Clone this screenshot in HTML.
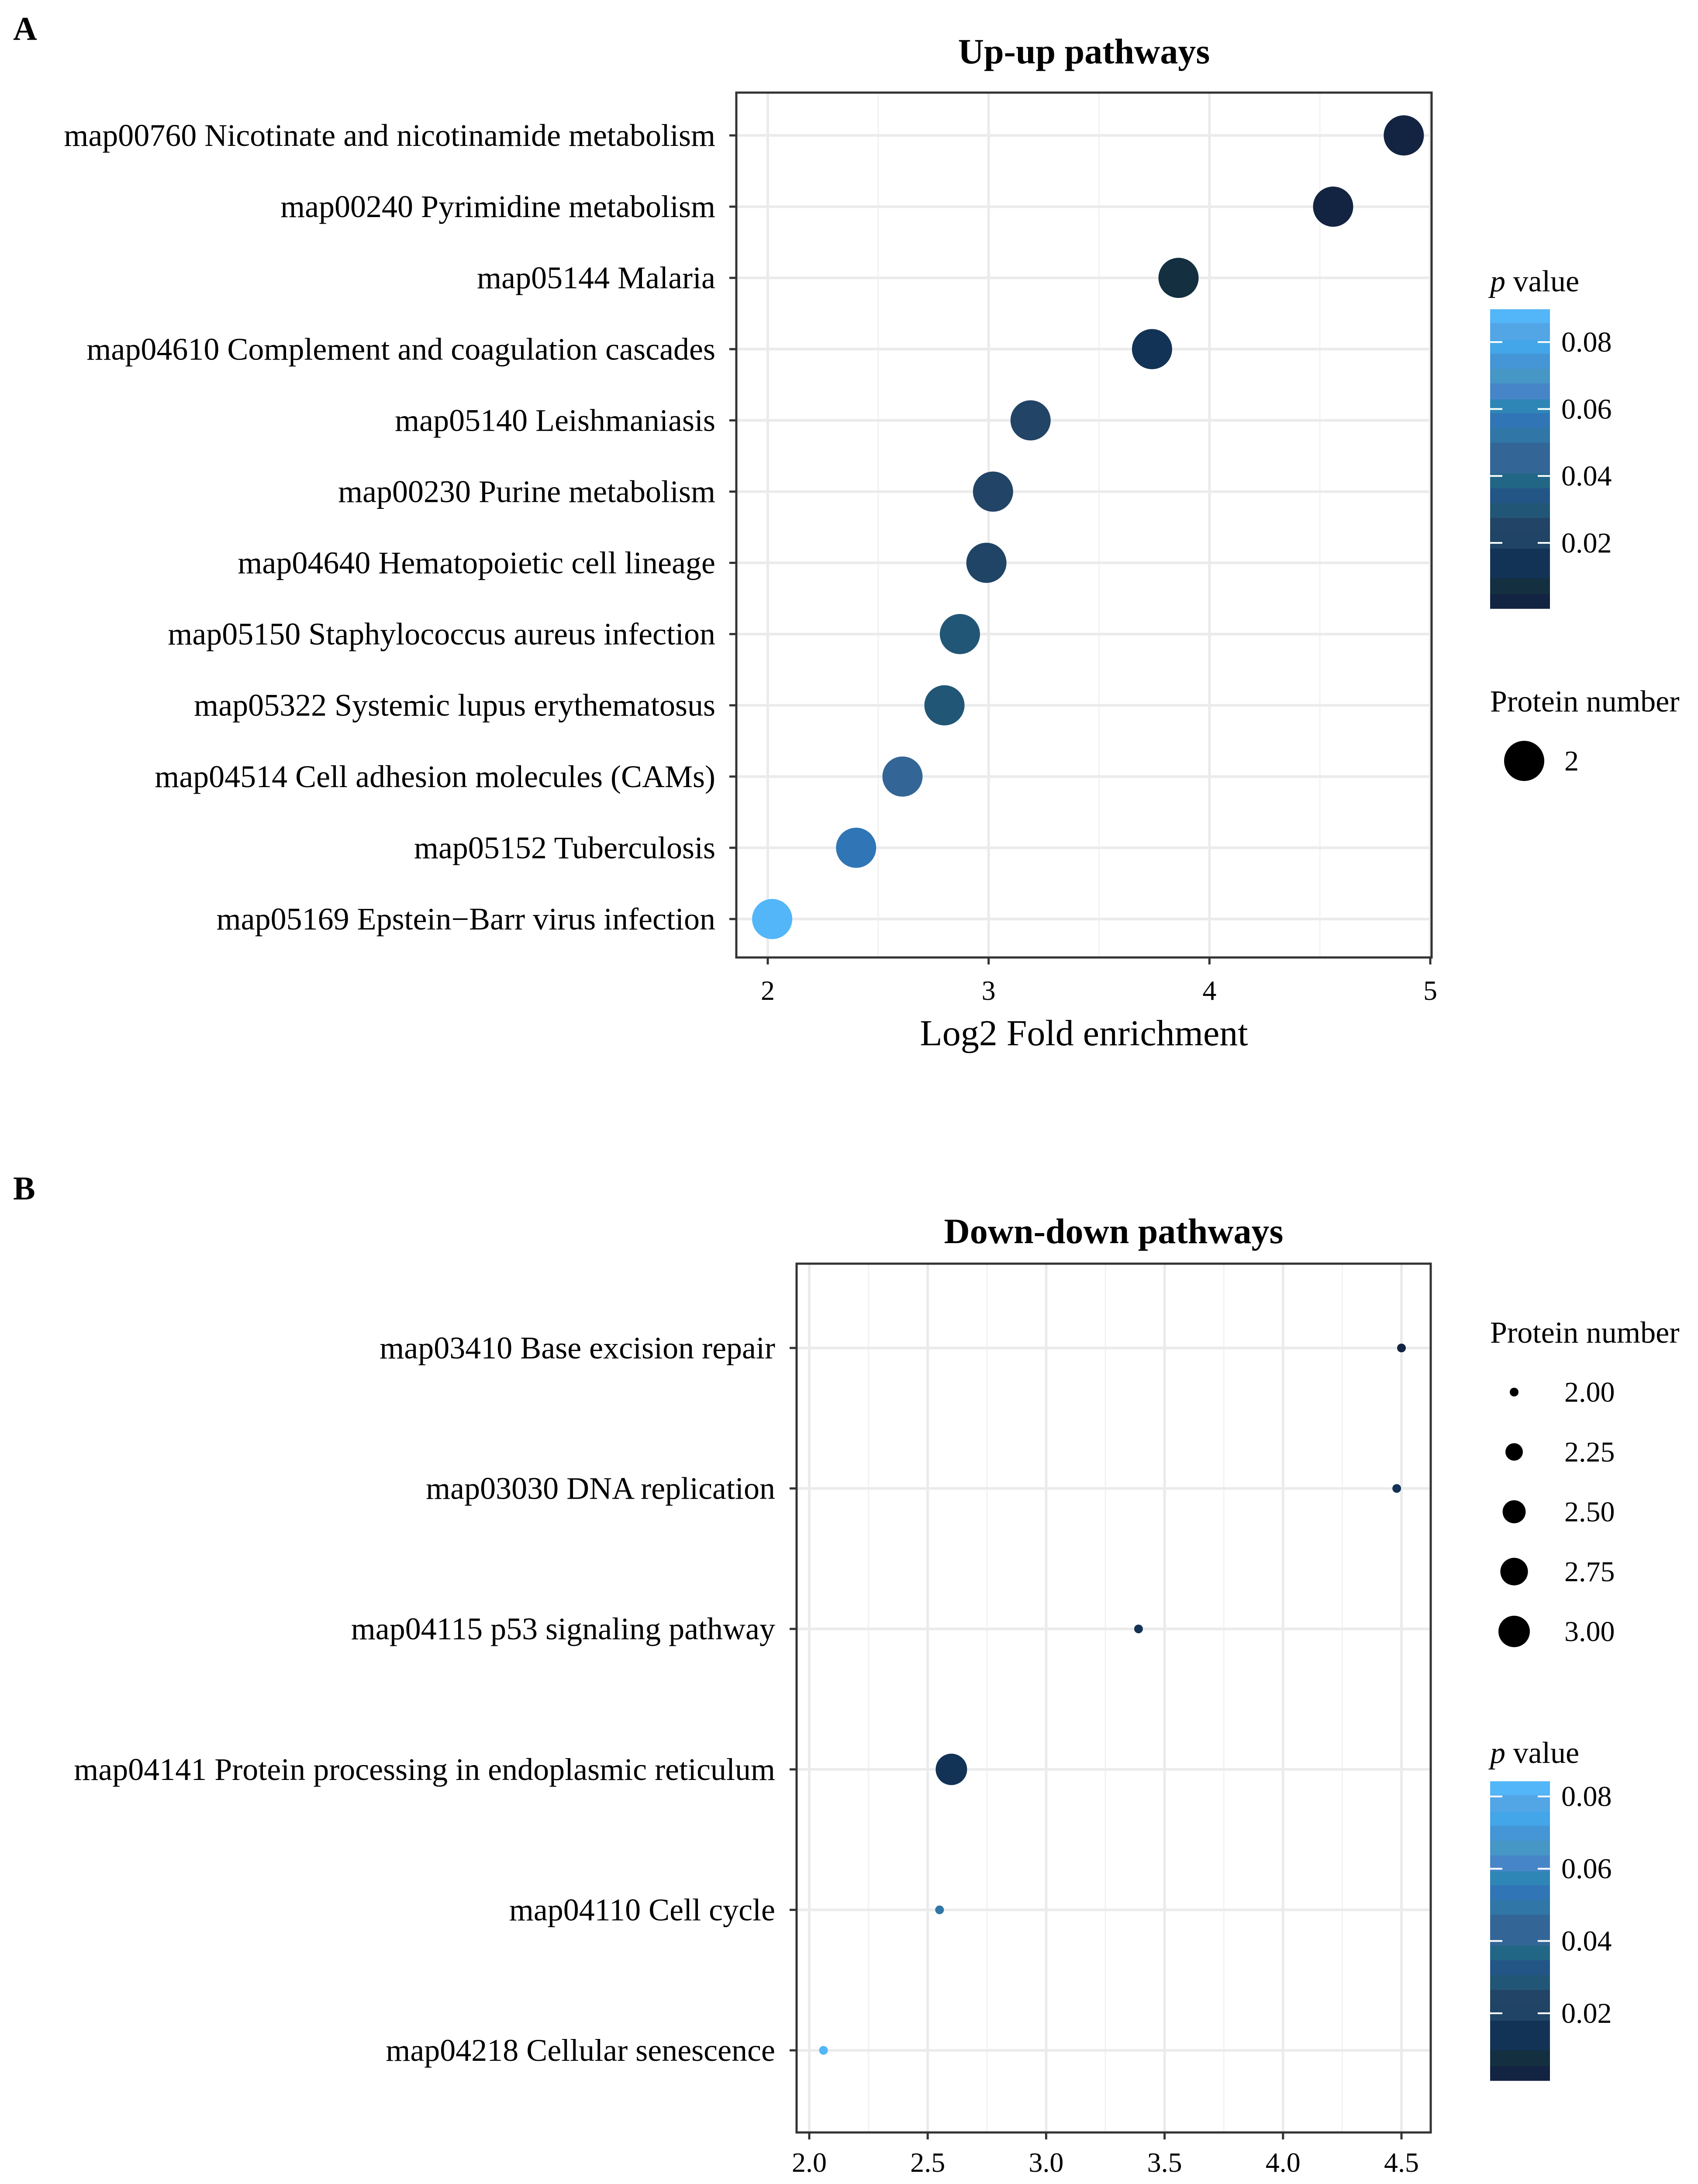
<!DOCTYPE html>
<html><head><meta charset="utf-8"><style>
html,body{margin:0;padding:0;background:#fff;overflow:hidden;width:3888px;height:5115px}
svg{display:block;position:absolute;left:0;top:0}
text{font-family:"Liberation Serif",serif;fill:#000}
</style></head><body>
<svg id="chart" width="3888" height="5115" viewBox="0 0 3888 5115" xmlns="http://www.w3.org/2000/svg" overflow="hidden"></svg>
<script>
// ---- Panel A data ----
const catsA = ["map00760 Nicotinate and nicotinamide metabolism","map00240 Pyrimidine metabolism","map05144 Malaria","map04610 Complement and coagulation cascades","map05140 Leishmaniasis","map00230 Purine metabolism","map04640 Hematopoietic cell lineage","map05150 Staphylococcus aureus infection","map05322 Systemic lupus erythematosus","map04514 Cell adhesion molecules (CAMs)","map05152 Tuberculosis","map05169 Epstein\u2212Barr virus infection"];
const foldA = [4.88,4.56,3.86,3.74,3.19,3.02,2.99,2.87,2.80,2.61,2.40,2.02];
const pA = [0.002,0.002,0.007,0.014,0.025,0.025,0.020,0.029,0.029,0.047,0.056,0.088];
const protA = [2,2,2,2,2,2,2,2,2,2,2,2];
const xTicksA = [2,3,4,5];
const xTickLabelsA = ["2","3","4","5"];
const pTicksA = [0.02,0.04,0.06,0.08];
const pTickLabelsA = ["0.02","0.04","0.06","0.08"];
// ---- Panel B data ----
const catsB = ["map03410 Base excision repair","map03030 DNA replication","map04115 p53 signaling pathway","map04141 Protein processing in endoplasmic reticulum","map04110 Cell cycle","map04218 Cellular senescence"];
const foldB = [4.50,4.48,3.39,2.60,2.55,2.06];
const pB = [0.003,0.012,0.012,0.012,0.050,0.082];
const protB = [2,2,2,3,2,2];
const xTicksB = [2.0,2.5,3.0,3.5,4.0,4.5];
const xTickLabelsB = ["2.0","2.5","3.0","3.5","4.0","4.5"];
const sizeLegendB = [2.00,2.25,2.50,2.75,3.00];
const sizeLegendLabelsB = ["2.00","2.25","2.50","2.75","3.00"];
const pTicksB = [0.02,0.04,0.06,0.08];
const pTickLabelsB = ["0.02","0.04","0.06","0.08"];

// colour bar bands (top->bottom), relative heights
const bandColors = ["#52b6f8","#52a6e6","#42a6e8","#4496d6","#4696c6","#4686c8","#2e86b6","#3076b6","#3076a6","#336696","#226686","#235686","#225676","#224466","#1f4466","#123356","#132f40","#132342"];
const bandHeights = [65,80,65,70,70,75,65,70,70,145,70,70,70,70,75,140,75,67];

const NS="http://www.w3.org/2000/svg";
const svg=document.getElementById('chart');
function mk(tag,attrs,parent){const e=document.createElementNS(NS,tag);for(const k in attrs)e.setAttribute(k,attrs[k]);(parent||svg).appendChild(e);return e;}
function txt(s,attrs,parent){const e=mk('text',attrs,parent);e.textContent=s;return e;}
const totalBand=bandHeights.reduce((a,b)=>a+b,0);
function colorFor(p,pmin,pmax){
  const f=1-(p-pmin)/(pmax-pmin);
  let acc=0;
  for(let i=0;i<bandHeights.length;i++){acc+=bandHeights[i];if(f*totalBand<=acc)return bandColors[i];}
  return bandColors[bandColors.length-1];
}

function panel(o){
  const g=mk('g',{});
  
  
  const xs=v=>o.x0px+(v-o.x0v)*(o.x1px-o.x0px)/(o.x1v-o.x0v);
  const n=o.cats.length;
  const ys=i=>o.y0px+i*(o.y1px-o.y0px)/(n-1);
  const bg=mk('rect',{x:o.L,y:o.T,width:o.R-o.L,height:o.B-o.T,fill:'#fff'},g);
  
  for(let i=0;i<o.ticks.length-1;i++){
    const m=(o.ticks[i]+o.ticks[i+1])/2;
    const l=mk('line',{x1:xs(m),x2:xs(m),y1:o.T,y2:o.B,stroke:'#f2f2f2','stroke-width':3},g);
    
  }
  o.ticks.forEach(t=>{
    const l=mk('line',{x1:xs(t),x2:xs(t),y1:o.T,y2:o.B,stroke:'#ebebeb','stroke-width':6},g);
    
  });
  o.cats.forEach((c,i)=>{
    const l=mk('line',{x1:o.L,x2:o.R,y1:ys(i),y2:ys(i),stroke:'#ebebeb','stroke-width':6},g);
    
  });
  o.cats.forEach((c,i)=>{
    const r=o.rad(o.prot[i]);
    const cc=mk('circle',{cx:xs(o.fold[i]),cy:ys(i),r:r,fill:colorFor(o.p[i],o.pmin,o.pmax)},g);
    
  });
  const bd=mk('rect',{x:o.L,y:o.T,width:o.R-o.L,height:o.B-o.T,fill:'none',stroke:'#333','stroke-width':5},g);
  
  o.cats.forEach((c,i)=>{
    const l=mk('line',{x1:o.L-16,x2:o.L,y1:ys(i),y2:ys(i),stroke:'#333','stroke-width':5},g);
    
    const t=txt(c,{x:o.labelEnd,y:ys(i)+24,'text-anchor':'end','font-size':72},g);
    
  });
  o.ticks.forEach((t,i)=>{
    const l=mk('line',{x1:xs(t),x2:xs(t),y1:o.B,y2:o.B+16,stroke:'#333','stroke-width':5},g);
    
    const tl=txt(o.tickLabels[i],{x:xs(t),y:o.tickY+22,'text-anchor':'middle','font-size':64},g);
    
  });
  const xt=txt('Log2 Fold enrichment',{x:(o.L+o.R)/2,y:o.axisTitleY+28,'text-anchor':'middle','font-size':84},g);
  
  const tt=txt(o.title,{x:(o.L+o.R)/2,y:o.titleY+28,'text-anchor':'middle','font-size':82,'font-weight':'bold'},g);
  
  const pl=txt(o.letter,{x:30,y:o.letterY+26,'font-size':76,'font-weight':'bold'},g);
  
  return g;
}

function colorbar(o){
  const g=mk('g',{});
  
  const t=txt('',{x:o.x,y:o.titleY+24,'font-size':70},g);
  const ti=document.createElementNS(NS,'tspan');ti.setAttribute('font-style','italic');ti.textContent='p';t.appendChild(ti);
  const t2=document.createElementNS(NS,'tspan');t2.textContent=' value';t.appendChild(t2);
  
  let y=o.top;const H=o.bottom-o.top;
  bandHeights.forEach((h,i)=>{
    const hh=h/totalBand*H;
    const r=mk('rect',{x:o.x,y:y,width:o.w,height:hh+0.8,fill:bandColors[i]},g);
    
    y+=hh;
  });
  const py=v=>o.bottom-(v-o.pmin)/(o.pmax-o.pmin)*H;
  o.ticks.forEach((v,i)=>{
    const yy=py(v);
    const a=mk('line',{x1:o.x,x2:o.x+28,y1:yy,y2:yy,stroke:'#fff','stroke-width':4},g);
    
    const b=mk('line',{x1:o.x+o.w-28,x2:o.x+o.w,y1:yy,y2:yy,stroke:'#fff','stroke-width':4},g);
    
    const l=txt(o.labels[i],{x:o.x+o.w+26,y:yy+22,'font-size':66},g);
    
  });
}

const radA=v=>46;
const radB=v=>Math.sqrt(100+(v-2)*(36*36-100));

panel({name:'panel-a-up-up',cats:catsA,fold:foldA,p:pA,prot:protA,rad:radA,pmin:0,pmax:0.09,
  L:1686,R:3278,T:212,B:2192,x0v:2,x1v:5,x0px:1758,x1px:3275,y0px:310,y1px:2104,
  ticks:xTicksA,tickLabels:xTickLabelsA,labelEnd:1638,title:'Up-up pathways',titleY:117,letter:'A',letterY:65,
  tickY:2267,axisTitleY:2365});
colorbar({x:3412,w:137,top:708,bottom:1393,pmin:0.0004,pmax:0.0898,ticks:pTicksA,labels:pTickLabelsA,titleY:643});
{
  const g=mk('g',{});
  const t=txt('Protein number',{x:3412,y:1629,'font-size':70},g);
  
  const c=mk('circle',{cx:3490,cy:1742,r:radA(2),fill:'#000'},g);
  
  const l=txt('2',{x:3582,y:1764,'font-size':66},g);
  
}

panel({name:'panel-b-down-down',cats:catsB,fold:foldB,p:pB,prot:protB,rad:radB,pmin:0.0014,pmax:0.0842,
  L:1824,R:3276,T:2893,B:4882,x0v:2.0,x1v:4.5,x0px:1853,x1px:3209,y0px:3086,y1px:4694,
  ticks:xTicksB,tickLabels:xTickLabelsB,labelEnd:1775,title:'Down-down pathways',titleY:2818,letter:'B',letterY:2720,
  tickY:4950,axisTitleY:5040});
{
  const g=mk('g',{});
  const t=txt('Protein number',{x:3412,y:3074,'font-size':70},g);
  
  sizeLegendB.forEach((v,i)=>{
    const y=3187+i*137;
    const c=mk('circle',{cx:3467,cy:y,r:radB(v),fill:'#000'},g);
    
    const l=txt(sizeLegendLabelsB[i],{x:3582,y:y+22,'font-size':66},g);
    
  });
}
colorbar({x:3412,w:137,top:4078,bottom:4763,pmin:0.0014,pmax:0.0842,ticks:pTicksB,labels:pTickLabelsB,titleY:4012});
</script>
</body></html>
